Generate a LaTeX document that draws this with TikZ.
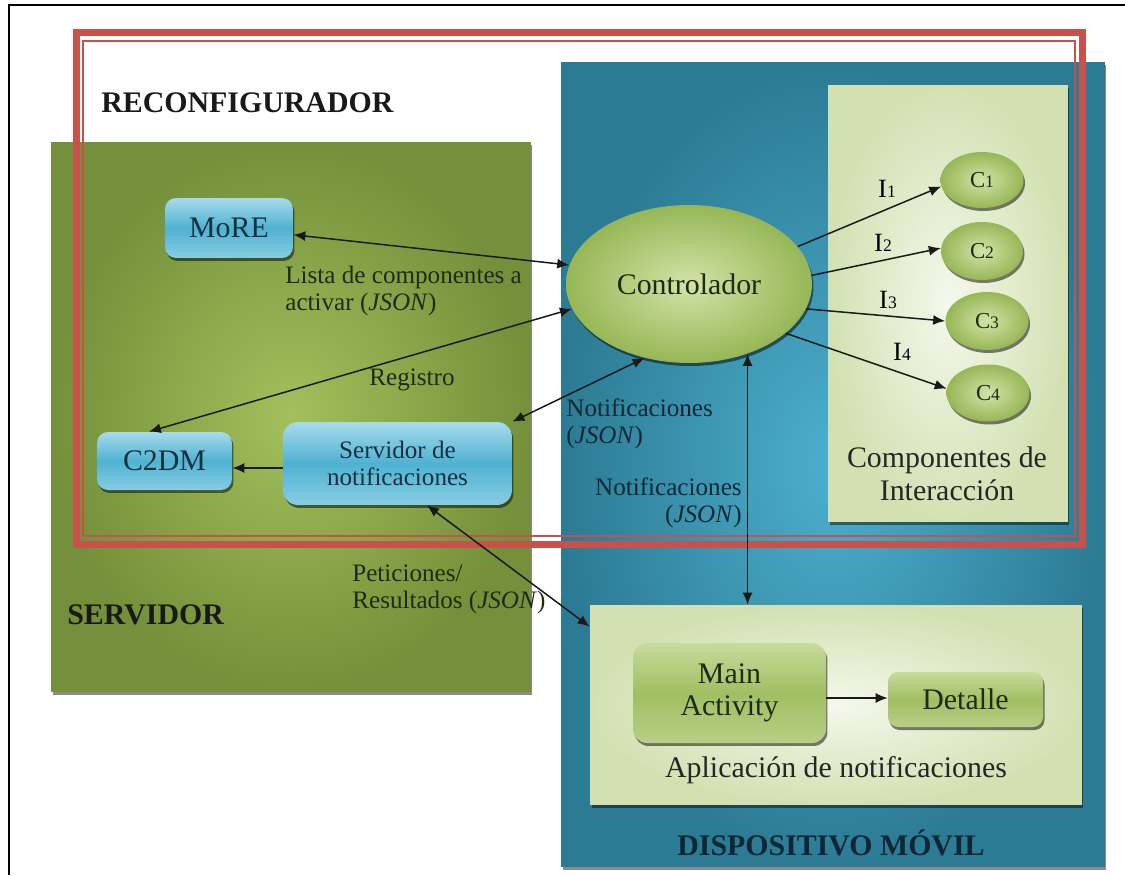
\documentclass[tikz,border=0pt]{standalone}
\usepackage{fontspec}
\setmainfont{Liberation Serif}
\usetikzlibrary{shapes.geometric,arrows.meta,shadows,calc}

\definecolor{srvdark}{HTML}{74903A}
\definecolor{srvlight}{HTML}{A2C05C}
\definecolor{mobdark}{HTML}{2C7B94}
\definecolor{moblight}{HTML}{4CAFCE}
\definecolor{paneldark}{HTML}{D3E1B2}
\definecolor{panellight}{HTML}{F5F8EC}
\definecolor{bluetop}{HTML}{A6DBEC}
\definecolor{bluemid}{HTML}{4FB2D2}
\definecolor{bluebot}{HTML}{88CDE3}
\definecolor{greentop}{HTML}{C8DB9C}
\definecolor{greenmid}{HTML}{A0BF62}
\definecolor{greenbot}{HTML}{B8CF87}
\definecolor{ballin}{HTML}{D2E3A8}
\definecolor{ballout}{HTML}{97B756}
\definecolor{redframe}{HTML}{C8514C}
\definecolor{navytext}{HTML}{13303F}
\definecolor{olivetext}{HTML}{1E2A0D}
\definecolor{tealtext}{HTML}{0E2733}

\newcommand\lblbig{\fontsize{17}{18.5}\selectfont}
\newcommand\lblsmall{\fontsize{14.3}{15.3}\selectfont}
\newcommand\idx[1]{{\fontsize{10}{10}\selectfont #1}}

\begin{document}
\begin{tikzpicture}[x=0.02cm,y=-0.02cm,
  frameline/.style={line width=0.04cm,black},
  area/.style={rectangle,draw=none,inner sep=0pt,
    drop shadow={shadow xshift=0.03cm,shadow yshift=-0.06cm,fill=black,opacity=0.45}},
  serverarea/.style={area,inner color=srvlight,outer color=srvdark},
  mobilearea/.style={area,inner color=moblight,outer color=mobdark},
  panel/.style={area,inner color=panellight,outer color=paneldark},
  bluebox/.style={rectangle,rounded corners=0.22cm,inner sep=0pt,align=center,
    top color=bluetop,bottom color=bluebot,middle color=bluemid,text=navytext,
    drop shadow={shadow xshift=0.03cm,shadow yshift=-0.06cm,fill=black,opacity=0.5}},
  greenbox/.style={rectangle,rounded corners=0.28cm,inner sep=0pt,align=center,
    top color=greentop,bottom color=greenbot,middle color=greenmid,text=olivetext,
    drop shadow={shadow xshift=0.03cm,shadow yshift=-0.06cm,fill=black,opacity=0.5}},
  ball/.style={ellipse,inner sep=0pt,inner color=ballin,outer color=ballout,text=olivetext,
    drop shadow={shadow xshift=0.03cm,shadow yshift=-0.06cm,fill=black,opacity=0.5}},
  darr/.style={{Latex[length=2.4mm,width=2mm]}-{Latex[length=2.4mm,width=2mm]},line width=0.03cm,black!90},
  arr/.style={-{Latex[length=2.4mm,width=2mm]},line width=0.03cm,black!90},
  title/.style={font=\lblbig\bfseries,text=black!90,inner sep=0pt},
  note/.style={font=\lblsmall,inner sep=0pt},
]
\useasboundingbox (0,0) rectangle (1125,875);

% page frame
\draw[frameline] (9,875) -- (9,5) -- (1125,5);

% large areas
\node[serverarea,minimum width=9.6cm,minimum height=11cm] (srv) at (291,417) {};
\node[mobilearea,minimum width=10.88cm,minimum height=16.1cm] (mob) at (833,464.5) {};
\node[panel,minimum width=4.8cm,minimum height=8.74cm] (comp) at (948,303.5) {};
\node[panel,minimum width=9.84cm,minimum height=4cm] (app) at (836,705) {};

% reconfigurator boundary (double red line)
\draw[redframe,line width=0.14cm] (76,33) rectangle (1082,544);
\draw[redframe,line width=0.04cm] (83,41) rectangle (1075,536);

% area titles
\node[title,anchor=west] (trec) at (101,103) {RECONFIGURADOR};
\node[title,anchor=west] (tsrv) at (67,615) {SERVIDOR};
\node[title,text=tealtext] (tmob) at (831,843) {DISPOSITIVO MÓVIL};
\node[font=\lblbig,align=center,text=black!85,inner sep=0pt] (tcomp) at (947,474) {Componentes de\\Interacción};
\node[font=\lblbig,text=black!85,inner sep=0pt] (tapp) at (836,770) {Aplicación de notificaciones};

% server components
\node[bluebox,font=\lblbig,minimum width=2.56cm,minimum height=1.2cm] (more) at (229,228) {MoRE};
\node[bluebox,font=\lblbig,minimum width=2.7cm,minimum height=1.16cm] (c2dm) at (164.5,461) {C2DM};
\node[bluebox,font=\lblsmall,rounded corners=0.3cm,minimum width=4.58cm,minimum height=1.66cm] (serv) at (397.5,463.5) {Servidor de\\notificaciones};

% mobile components
\node[ball,font=\lblbig,minimum width=4.92cm,minimum height=3.16cm] (ctrl) at (689,284) {Controlador};
\node[ball,font=\fontsize{13}{13}\selectfont,minimum width=1.66cm,minimum height=1.12cm] (c1) at (982,180) {C\idx{1}};
\node[ball,font=\fontsize{13}{13}\selectfont,minimum width=1.64cm,minimum height=1.16cm] (c2) at (982,251) {C\idx{2}};
\node[ball,font=\fontsize{13}{13}\selectfont,minimum width=1.66cm,minimum height=1.16cm] (c3) at (987,321) {C\idx{3}};
\node[ball,font=\fontsize{13}{13}\selectfont,minimum width=1.66cm,minimum height=1.14cm] (c4) at (988,393) {C\idx{4}};
\node[greenbox,font=\lblbig,minimum width=3.86cm,minimum height=2cm] (main) at (729.5,693) {Main\\Activity};
\node[greenbox,font=\lblbig,rounded corners=0.2cm,minimum width=3.1cm,minimum height=1.1cm] (det) at (965.5,699.5) {Detalle};

% connections
\draw[darr] (more.-6) -- (ctrl.171);
\draw[darr] (c2dm.118) -- (ctrl.192);
\draw[darr] (serv.north east) -- (ctrl.239);
\draw[arr] ([yshift=-0.09cm]serv.west) coordinate (sw) -- (sw -| c2dm.east);
\draw[darr] ([xshift=0.59cm]serv.south) -- ([yshift=-0.44cm]app.north west);
\draw[darr] (ctrl.310) -- (ctrl.310 |- app.north);
\draw[arr] (ctrl.19) -- (c1.189);
\draw[arr] (ctrl.4) -- (c2.176);
\draw[arr] (ctrl.-12) -- (c3.west);
\draw[arr] (ctrl.-27) -- (c4.174);
\draw[arr] ([yshift=-0.1cm]main.east) coordinate (me) -- (me -| det.west);

% connector labels
\node[note,anchor=west,align=left,text=olivetext] (llista) at (285,291) {Lista de componentes a\\activar (\textit{JSON})};
\node[note,text=olivetext] (lreg) at (412,380) {Registro};
\node[note,anchor=west,align=left,text=tealtext] (lnot1) at (566,424) {Notificaciones\\(\textit{JSON})};
\node[note,anchor=east,align=right,text=tealtext] (lnot2) at (742,503) {Notificaciones\\(\textit{JSON})};
\node[note,anchor=west,align=left,text=olivetext] (lpet) at (352,589) {Peticiones/\\Resultados (\textit{JSON})};
\node[font=\fontsize{15}{15}\selectfont,inner sep=0pt] (li1) at (887,189) {I\idx{1}};
\node[font=\fontsize{15}{15}\selectfont,inner sep=0pt] (li2) at (883,243) {I\idx{2}};
\node[font=\fontsize{15}{15}\selectfont,inner sep=0pt] (li3) at (888,300) {I\idx{3}};
\node[font=\fontsize{15}{15}\selectfont,inner sep=0pt] (li4) at (902,352) {I\idx{4}};
\end{tikzpicture}
\end{document}
